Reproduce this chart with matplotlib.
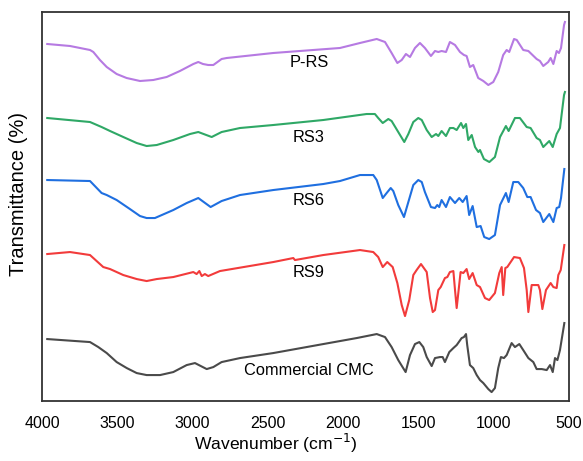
import matplotlib
matplotlib.use("Agg")
import matplotlib.pyplot as plt

plt.rcParams['font.family'] = ['Liberation Sans', 'DejaVu Sans']

# FTIR spectra, wavenumber (cm-1) vs transmittance (a.u., curves stacked)
wn_prs = [3965, 3814, 3681, 3659, 3615, 3570, 3504, 3438, 3349, 3261,
          3172, 3084, 2995, 2962, 2931, 2896, 2862, 2807, 2773, 2464,
          2021, 1888, 1777, 1722, 1678, 1640, 1611, 1583,
          1556, 1523, 1490, 1457, 1417, 1390, 1368, 1346, 1317, 1291,
          1257, 1224, 1198, 1180, 1158, 1136, 1103, 1069, 1036, 1003,
          970, 937, 914, 897, 865, 847, 804, 770, 715, 693,
          671, 638, 622, 604, 582, 567, 553, 533, 527]
t_prs = [357, 355, 351, 349, 341, 334, 327, 323, 320, 321,
         324, 330, 337, 339, 337, 336, 336, 342, 343, 348,
         353, 358, 362, 359, 348, 338, 341, 347,
         344, 353, 358, 353, 345, 350, 349, 350, 349, 359,
         356, 349, 346, 345, 334, 336, 323, 320, 316, 319,
         329, 346, 351, 349, 362, 361, 351, 350, 342, 340,
         335, 339, 343, 337, 350, 348, 353, 376, 379]

wn_rs3 = [3965, 3681, 3604, 3548, 3460, 3371, 3305, 3238, 3128, 3017,
          2962, 2873, 2807, 2685, 2464, 2132, 1844, 1789, 1767, 1737,
          1700, 1678, 1634, 1594,
          1567, 1534, 1501, 1478, 1445, 1412, 1383, 1368, 1346, 1317,
          1291, 1268, 1246, 1217, 1202, 1184, 1169, 1146, 1124, 1102,
          1091, 1065, 1029, 992, 958, 919, 901, 859, 826, 781,
          755, 715, 693, 671, 631, 608, 582, 560, 533, 527]
t_rs3 = [283, 279, 274, 270, 264, 258, 255, 256, 261, 267,
         269, 264, 269, 273, 276, 281, 287, 287, 283, 278,
         282, 280, 269, 259,
         267, 279, 283, 281, 271, 264, 267, 265, 270, 265,
         273, 273, 271, 278, 273, 277, 261, 266, 254, 249,
         251, 242, 239, 244, 264, 275, 270, 283, 283, 274,
         273, 263, 261, 254, 260, 254, 267, 273, 306, 309]

wn_rs6 = [3965, 3681, 3604, 3570, 3504, 3416, 3349, 3305, 3250, 3128,
          3039, 2962, 2880, 2807, 2685, 2464, 2132, 2021, 1888, 1800,
          1777, 1737, 1711, 1684,
          1667, 1634, 1596, 1567, 1534, 1501, 1478, 1457, 1417, 1390,
          1375, 1362, 1346, 1317, 1291, 1257, 1229, 1206, 1180, 1163,
          1140, 1113, 1087, 1063, 1030, 992, 958, 919, 901, 870,
          837, 804, 777, 755, 719, 693, 671, 631, 604, 582,
          565, 553, 531]
t_rs6 = [221, 220, 208, 206, 201, 192, 185, 183, 183, 191,
         198, 203, 194, 200, 206, 211, 217, 220, 226, 226,
         221, 203, 208, 213,
         210, 196, 184, 199, 216, 221, 219, 209, 194, 193,
         196, 194, 201, 194, 204, 198, 203, 199, 205, 186,
         195, 174, 175, 164, 162, 166, 196, 208, 199, 219,
         219, 213, 204, 204, 191, 188, 179, 187, 179, 193,
         194, 203, 232]

wn_rs9 = [3965, 3814, 3681, 3593, 3548, 3460, 3371, 3305, 3238, 3128,
          2995, 2973, 2955, 2939, 2918, 2896, 2818, 2464, 2331, 2320,
          2132, 1888, 1800, 1767, 1737, 1707, 1671, 1640, 1611, 1589,
          1561, 1534,
          1512, 1483, 1445, 1423, 1405, 1390, 1368, 1352, 1324, 1308,
          1291, 1268, 1257, 1246, 1233, 1220, 1202, 1180, 1163, 1140,
          1113, 1091, 1058, 1030, 992, 963, 947, 937, 923, 910,
          865, 826, 799, 781, 770, 748, 704, 693, 677, 653,
          622, 604, 582, 571, 555, 531]
t_rs9 = [147, 149, 146, 134, 132, 126, 122, 120, 122, 124,
         129, 127, 130, 125, 127, 125, 130, 139, 143, 141,
         146, 151, 149, 144, 134, 139, 134, 118, 96, 85,
         101, 126,
         131, 137, 129, 103, 89, 91, 111, 114, 123, 124,
         129, 130, 111, 93, 111, 129, 128, 132, 122, 128,
         116, 114, 103, 101, 108, 128, 134, 106, 133, 134,
         144, 143, 133, 111, 89, 116, 116, 111, 92, 111,
         118, 114, 113, 126, 131, 156]

wn_cmc = [3965, 3681, 3626, 3570, 3504, 3437, 3371, 3305, 3216, 3128,
          3039, 2984, 2906, 2862, 2807, 2685, 2464, 2132, 1910, 1777,
          1722, 1678, 1634, 1585, 1556,
          1523, 1494, 1468, 1445, 1412, 1390, 1357, 1339, 1324, 1295,
          1268, 1246, 1213, 1198, 1184, 1176, 1158, 1136, 1113, 1091,
          1069, 1036, 1014, 992, 970, 952, 932, 914, 881, 859,
          830, 804, 770, 737, 715, 681, 648, 626, 608, 593,
          577, 560, 531]
t_cmc = [62, 59, 54, 48, 39, 33, 28, 26, 26, 29,
         36, 38, 32, 34, 39, 43, 48, 57, 63, 67,
         64, 54, 41, 29, 46,
         57, 59, 54, 44, 35, 43, 44, 44, 39, 49,
         53, 56, 63, 64, 67, 56, 36, 33, 26, 21,
         18, 12, 9, 13, 33, 44, 43, 46, 58, 54,
         57, 51, 43, 39, 32, 32, 31, 36, 29, 43,
         41, 51, 78]

names = ["P-RS", "RS3", "RS6", "RS9", "Commercial CMC"]
label_y = [338, 264, 201, 129, 31]
xticks = [4000, 3500, 3000, 2500, 2000, 1500, 1000, 500]

series = [(wn_prs, t_prs, "#b67ae2"),
          (wn_rs3, t_rs3, "#2fa866"),
          (wn_rs6, t_rs6, "#1f6fe0"),
          (wn_rs9, t_rs9, "#f23b3b"),
          (wn_cmc, t_cmc, "#4a4a4a")]

fig = plt.figure(figsize=(5.83, 4.61), dpi=100)
ax = fig.add_axes([0.072, 0.13, 0.904, 0.844])

for (x, y, c), name, ly in zip(series, names, label_y):
    ax.plot(x, y, color=c, lw=1.5)
    ax.text(2227, ly, name, ha="center", va="center", fontsize=11.8)

ax.set_xlim(4000, 500)
ax.set_ylim(0, 389)
ax.set_xticks(xticks)
ax.set_xticklabels([str(v) for v in xticks])
ax.set_yticks([])
ax.tick_params(axis="x", length=0, pad=11, labelsize=11.5)
for s in ax.spines.values():
    s.set_color("#333333")
    s.set_linewidth(1.3)

ax.set_xlabel("Wavenumber (cm$^{-1}$)", fontsize=12.6)
ax.xaxis.set_label_coords(0.444, -0.078)
ax.set_ylabel("Transmittance (%)", fontsize=14.5)
ax.yaxis.set_label_coords(-0.027, 0.532)

fig.savefig("out.png", dpi=100)
